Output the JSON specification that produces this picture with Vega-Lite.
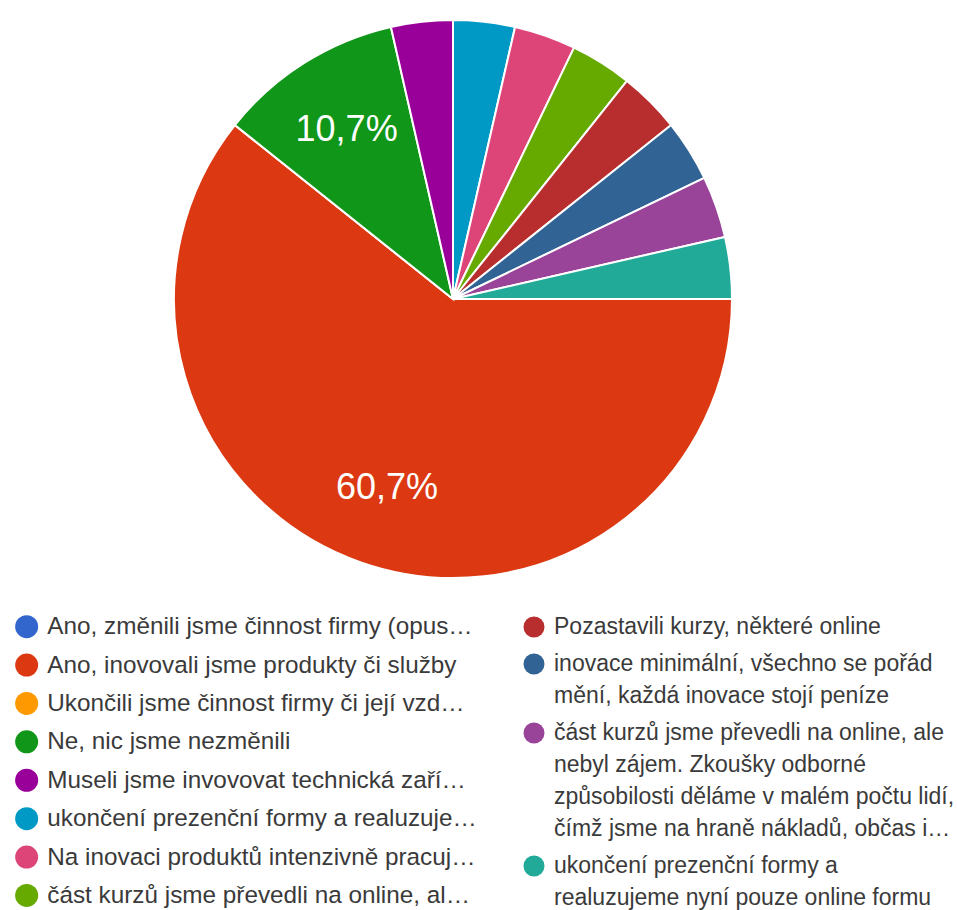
{
  "$schema": "https://vega.github.io/schema/vega-lite/v6.json",
  "width": 906,
  "height": 558,
  "padding": {"left": 0, "top": 16, "right": 0, "bottom": 0},
  "background": "white",
  "datasets": {
    "answers": [
      {"idx": 1, "answer": "Ano, změnili jsme činnost firmy (opus…", "count": 0, "pct": ""},
      {"idx": 2, "answer": "Ano, inovovali jsme produkty či služby", "count": 17, "pct": "60,7%"},
      {"idx": 3, "answer": "Ukončili jsme činnost firmy či její vzd…", "count": 0, "pct": ""},
      {"idx": 4, "answer": "Ne, nic jsme nezměnili", "count": 3, "pct": "10,7%"},
      {"idx": 5, "answer": "Museli jsme invovovat technická zaří…", "count": 1, "pct": ""},
      {"idx": 6, "answer": "ukončení prezenční formy a realuzuje…", "count": 1, "pct": ""},
      {"idx": 7, "answer": "Na inovaci produktů intenzivně pracuj…", "count": 1, "pct": ""},
      {"idx": 8, "answer": "část kurzů jsme převedli na online, al…", "count": 1, "pct": ""},
      {"idx": 9, "answer": "Pozastavili kurzy, některé online", "count": 1, "pct": ""},
      {"idx": 10, "answer": "inovace minimální, všechno se pořád\nmění, každá inovace stojí peníze", "count": 1, "pct": ""},
      {"idx": 11, "answer": "část kurzů jsme převedli na online, ale\nnebyl zájem. Zkoušky odborné\nzpůsobilosti děláme v malém počtu lidí,\nčímž jsme na hraně nákladů, občas i…", "count": 1, "pct": ""},
      {"idx": 12, "answer": "ukončení prezenční formy a\nrealuzujeme nyní pouze online formu", "count": 1, "pct": ""}
    ]
  },
  "data": {"name": "answers"},
  "layer": [
    {
      "mark": {"type": "arc", "stroke": "white", "strokeWidth": 2},
      "encoding": {
        "theta": {"field": "count", "type": "quantitative", "stack": true, "scale": {"range": [1.5707963, 7.8539816]}},
        "order": {"field": "idx", "type": "quantitative"},
        "color": {
          "field": "answer",
          "type": "nominal",
          "scale": {
            "domain": [
              "Ano, změnili jsme činnost firmy (opus…",
              "Ano, inovovali jsme produkty či služby",
              "Ukončili jsme činnost firmy či její vzd…",
              "Ne, nic jsme nezměnili",
              "Museli jsme invovovat technická zaří…",
              "ukončení prezenční formy a realuzuje…",
              "Na inovaci produktů intenzivně pracuj…",
              "část kurzů jsme převedli na online, al…",
              "Pozastavili kurzy, některé online",
              "inovace minimální, všechno se pořád\nmění, každá inovace stojí peníze",
              "část kurzů jsme převedli na online, ale\nnebyl zájem. Zkoušky odborné\nzpůsobilosti děláme v malém počtu lidí,\nčímž jsme na hraně nákladů, občas i…",
              "ukončení prezenční formy a\nrealuzujeme nyní pouze online formu"
            ],
            "range": ["#3366cc", "#dc3912", "#ff9900", "#109618", "#990099", "#0099c6", "#dd4477", "#66aa00", "#b82e2e", "#316395", "#994499", "#22aa99"]
          },
          "legend": {
            "title": null,
            "orient": "none",
            "legendX": 14.5,
            "legendY": 594.5,
            "direction": "vertical",
            "values": [
              "Ano, změnili jsme činnost firmy (opus…",
              "Ano, inovovali jsme produkty či služby",
              "Ukončili jsme činnost firmy či její vzd…",
              "Ne, nic jsme nezměnili",
              "Museli jsme invovovat technická zaří…",
              "ukončení prezenční formy a realuzuje…",
              "Na inovaci produktů intenzivně pracuj…",
              "část kurzů jsme převedli na online, al…"
            ],
            "symbolType": "circle",
            "symbolSize": 529,
            "symbolStrokeWidth": 0,
            "symbolOpacity": 1,
            "labelFontSize": 24.3,
            "labelFont": "Liberation Sans",
            "labelColor": "#3a3a3a",
            "labelLimit": 1000,
            "labelOffset": 8.5,
            "labelBaseline": "top",
            "rowPadding": 13.4,
            "padding": 0,
            "encode": {"labels": {"update": {"lineBreak": {"value": "\n"}, "lineHeight": {"value": 32}}}}
          }
        }
      }
    },
    {
      "mark": {"type": "text", "radius": 200, "fontSize": 36, "font": "Liberation Sans", "fill": "white"},
      "encoding": {
        "theta": {"field": "count", "type": "quantitative", "stack": true},
        "order": {"field": "idx", "type": "quantitative"},
        "text": {"field": "pct", "type": "nominal"}
      }
    },
    {
      "transform": [{"filter": "datum.idx >= 9"}],
      "mark": {"type": "point", "filled": true, "opacity": 1, "size": 0},
      "encoding": {
        "fill": {
          "field": "answer",
          "type": "nominal",
          "scale": {
            "domain": [
              "Pozastavili kurzy, některé online",
              "inovace minimální, všechno se pořád\nmění, každá inovace stojí peníze",
              "část kurzů jsme převedli na online, ale\nnebyl zájem. Zkoušky odborné\nzpůsobilosti děláme v malém počtu lidí,\nčímž jsme na hraně nákladů, občas i…",
              "ukončení prezenční formy a\nrealuzujeme nyní pouze online formu"
            ],
            "range": ["#b82e2e", "#316395", "#994499", "#22aa99"]
          },
          "legend": {
            "title": null,
            "orient": "none",
            "legendX": 522.5,
            "legendY": 595.5,
            "direction": "vertical",
            "symbolType": "circle",
            "symbolSize": 441,
            "symbolStrokeWidth": 0,
            "symbolOpacity": 1,
            "labelFontSize": 23,
            "labelFont": "Liberation Sans",
            "labelColor": "#3a3a3a",
            "labelLimit": 1000,
            "labelOffset": 8.5,
            "labelBaseline": "top",
            "rowPadding": 14,
            "padding": 0,
            "encode": {"labels": {"update": {"lineBreak": {"value": "\n"}, "lineHeight": {"value": 32}}}}
          }
        }
      }
    }
  ],
  "config": {
    "view": {"stroke": null},
    "font": "Liberation Sans",
    "style": {"guide-label": {"dy": -11.5}}
  }
}
